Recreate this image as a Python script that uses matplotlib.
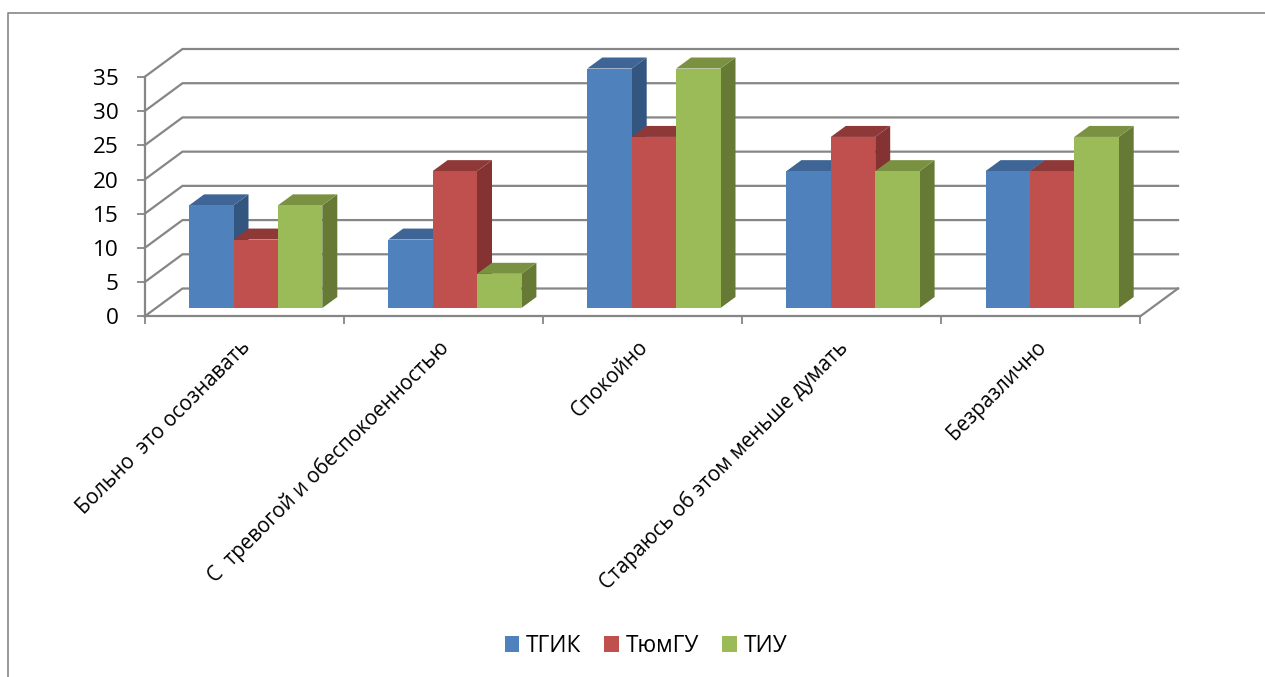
import matplotlib.pyplot as plt
from matplotlib.patches import Patch

plt.rcParams['font.family'] = ['Open Sans', 'Noto Sans', 'DejaVu Sans']

categories = ["Больно  это осознавать", "С  тревогой и обеспокоенностью", "Спокойно",
              "Стараюсь об этом меньше думать", "Безразлично"]
series_names = ["ТГИК", "ТюмГУ", "ТИУ"]
tgik = [15, 10, 35, 20, 20]
tumgu = [10, 20, 25, 25, 20]
tiu = [15, 5, 35, 20, 25]
y_ticks = [0, 5, 10, 15, 20, 25, 30, 35]

front_colors = ["#4F81BD", "#C0504D", "#9BBB59"]
top_colors = ["#3E6595", "#8E3838", "#7A9142"]
side_colors = ["#335680", "#853232", "#667A35"]
grid_color = "#868686"

W, H = 1265, 677
fig = plt.figure(figsize=(W / 100, H / 100), dpi=100)
fig.patch.set_facecolor("white")

# axes rectangle is the front plane of the fake 3d box
left, right, top, bottom = 144.5, 1140.0, 77.0, 316.5
ax = fig.add_axes([left / W, 1 - bottom / H, (right - left) / W, (bottom - top) / H])
ax.set_xlim(-0.5, 4.5)
ax.set_ylim(0, 35)
ax.patch.set_alpha(0)

px_x = (right - left) / 5
px_y = (bottom - top) / 35

# depth of the box and of the bars, pixels turned into data units
box_dx, box_dy = 38 / px_x, 28 / px_y
bar_dx, bar_dy = 15 / px_x, 11 / px_y
bar_w = 44.4 / px_x
bar_start = 44.6 / px_x
bar_base = 8.5 / px_y
label_shift = 3 / px_x

# walls: depth lines and back gridlines
for v in y_ticks:
    ax.plot([-0.5, -0.5 + box_dx, 4.5 + box_dx], [v, v + box_dy, v + box_dy],
            color=grid_color, lw=1.6, clip_on=False, zorder=1, solid_joinstyle="miter")
ax.plot([4.5, 4.5 + box_dx], [0, box_dy], color=grid_color, lw=1.6, clip_on=False, zorder=1)

# bars, left to right so the nearer faces cover the previous side
z = 2
for i in range(len(categories)):
    for j, values in enumerate([tgik, tumgu, tiu]):
        x0 = i - 0.5 + bar_start + j * bar_w
        x1 = x0 + bar_w
        y0 = bar_base
        y1 = bar_base + values[i]
        ax.fill([x1, x1 + bar_dx, x1 + bar_dx, x1], [y0, y0 + bar_dy, y1 + bar_dy, y1],
                color=side_colors[j], lw=0, clip_on=False, zorder=z)
        ax.fill([x0, x1, x1 + bar_dx, x0 + bar_dx], [y1, y1, y1 + bar_dy, y1 + bar_dy],
                color=top_colors[j], lw=0, clip_on=False, zorder=z)
        ax.bar(x0, values[i], width=bar_w, bottom=y0, align="edge", color=front_colors[j],
               lw=0, clip_on=False, zorder=z + 1)
        z += 2

for name in ["top", "right"]:
    ax.spines[name].set_visible(False)
for name in ["left", "bottom"]:
    ax.spines[name].set_color(grid_color)
    ax.spines[name].set_linewidth(1.6)
    ax.spines[name].set_zorder(1)

ax.set_yticks(y_ticks)
ax.tick_params(axis="y", length=5.5, width=1.3, color=grid_color, labelsize=16.2, pad=13)
ax.set_xticks([-0.5, 0.5, 1.5, 2.5, 3.5, 4.5])
ax.set_xticklabels([])
ax.tick_params(axis="x", which="major", length=5.5, width=1.3, color=grid_color)
ax.set_xticks([i + label_shift for i in range(5)], categories, minor=True)
ax.tick_params(axis="x", which="minor", length=0, pad=20, labelsize=14.8)
for label in ax.get_xticklabels(minor=True):
    label.set_rotation(45)
    label.set_ha("right")
    label.set_va("center")
    label.set_rotation_mode("anchor")

handles = [Patch(color=c, lw=0) for c in front_colors]
fig.legend(handles, series_names, ncol=3, frameon=False, fontsize=16.3,
           loc="center", bbox_to_anchor=(646 / W, 1 - 646 / H),
           handlelength=0.66, handleheight=0.66, handletextpad=0.3, columnspacing=1.0)

# outer chart frame, only top and left are in the picture
frame = fig.add_axes([0, 0, 1, 1], zorder=-1)
frame.set_xlim(0, W)
frame.set_ylim(H, 0)
frame.axis("off")
frame.plot([7.5, 7.5, W], [H, 12.5, 12.5], color=grid_color, lw=1.2)

fig.savefig("out.png", dpi=100)
